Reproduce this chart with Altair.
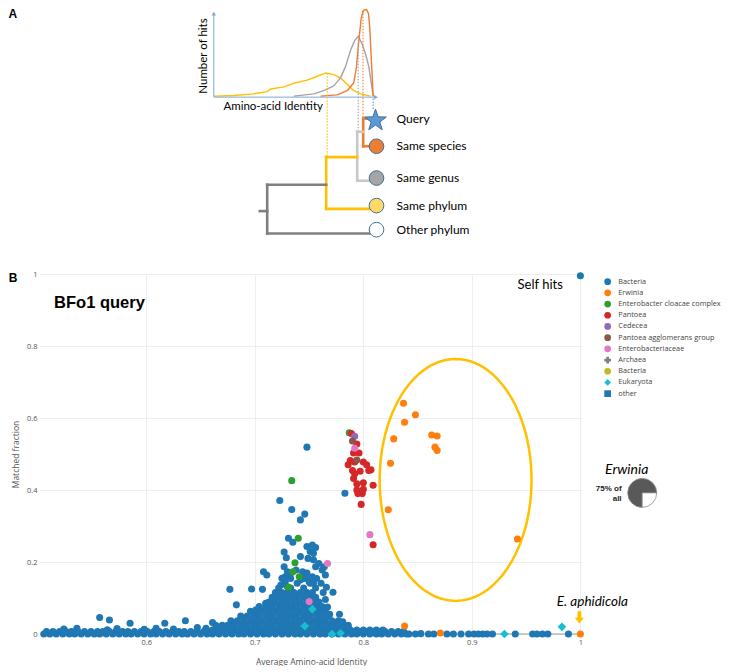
import math
import altair as alt
import pandas as pd

# ======================= PANEL B DATA =======================
GROUPS = ["Bacteria", "Erwinia", "Enterobacter cloacae complex", "Pantoea", "Cedecea",
          "Pantoea agglomerans group", "Enterobacteriaceae", "Archaea", "Bacteria ",
          "Eukaryota", "other"]
GROUP_COLORS = ["#1f77b4", "#ff7f0e", "#2ca02c", "#d62728", "#9467bd", "#8c564b",
                "#e377c2", "#7f7f7f", "#bcbd22", "#17becf", "#1f77b4"]
GROUP_SHAPES = ["circle", "circle", "circle", "circle", "circle", "circle", "circle",
                "cross", "circle", "diamond", "square"]

# Bacteria: band of hits lying on the x axis (two overlapping rows)
BAND0_X = [0.5055, 0.511, 0.517, 0.523, 0.529, 0.534, 0.540, 0.546, 0.552, 0.557, 0.563,
           0.569, 0.575, 0.581, 0.586, 0.592, 0.598, 0.604, 0.609, 0.615, 0.621, 0.627,
           0.633, 0.638, 0.644, 0.650, 0.656, 0.661, 0.667, 0.673, 0.679, 0.685, 0.690,
           0.696, 0.702, 0.708, 0.713, 0.719, 0.725, 0.731, 0.737, 0.742, 0.748, 0.754,
           0.760, 0.765, 0.771, 0.777, 0.783, 0.789, 0.794, 0.800, 0.806, 0.812, 0.817,
           0.823, 0.829, 0.835, 0.840]
BAND1_X = [0.508, 0.514, 0.520, 0.526, 0.531, 0.537, 0.543, 0.549, 0.555, 0.560, 0.566,
           0.572, 0.578, 0.583, 0.589, 0.595, 0.601, 0.607, 0.612, 0.618, 0.624, 0.630,
           0.635, 0.641, 0.647, 0.653, 0.659, 0.664, 0.670, 0.676, 0.682, 0.687, 0.693,
           0.699, 0.705, 0.711, 0.716, 0.722, 0.728, 0.734, 0.739, 0.745, 0.751, 0.757,
           0.763, 0.768, 0.774, 0.780, 0.786, 0.791, 0.797, 0.803, 0.809, 0.815, 0.820,
           0.826, 0.832, 0.837]
BAND0_Y = 0.0
BAND1_Y = 0.0065

# Bacteria: dense cloud around AAI 0.66-0.79 (rows: matched fraction -> AAI values)
CLOUD_ROWS = {
    0.011: [0.655, 0.661, 0.667, 0.672, 0.678, 0.684, 0.690, 0.696, 0.701, 0.707, 0.713,
            0.719, 0.725, 0.730, 0.736, 0.742, 0.748, 0.754, 0.759, 0.765, 0.771, 0.777,
            0.783, 0.788, 0.794, 0.800, 0.806, 0.812, 0.818],
    0.024: [0.664, 0.670, 0.675, 0.681, 0.687, 0.693, 0.699, 0.704, 0.710, 0.716, 0.722,
            0.728, 0.733, 0.739, 0.745, 0.751, 0.757, 0.762, 0.768, 0.774, 0.780, 0.786],
    0.037: [0.678, 0.684, 0.690, 0.696, 0.701, 0.707, 0.713, 0.719, 0.725, 0.730, 0.736,
            0.742, 0.748, 0.754, 0.759, 0.765, 0.771, 0.777],
    0.050: [0.687, 0.693, 0.699, 0.704, 0.710, 0.716, 0.722, 0.728, 0.733, 0.739, 0.745,
            0.751, 0.757, 0.762, 0.768],
    0.063: [0.696, 0.701, 0.707, 0.713, 0.719, 0.725, 0.730, 0.736, 0.742, 0.748, 0.754,
            0.759, 0.765],
    0.076: [0.704, 0.710, 0.716, 0.722, 0.728, 0.733, 0.739, 0.745, 0.751, 0.757, 0.762],
    0.089: [0.713, 0.719, 0.725, 0.730, 0.736, 0.742, 0.748, 0.754, 0.759],
    0.102: [0.716, 0.722, 0.728, 0.733, 0.739, 0.745, 0.751, 0.756],
    0.115: [0.719, 0.725, 0.730, 0.736, 0.742, 0.748, 0.753],
    0.128: [0.722, 0.733, 0.745, 0.756],
    0.141: [0.727, 0.739, 0.751],
    0.154: [0.733, 0.745, 0.757],
}

# Bacteria: individual hits
BACT_X = [0.748, 0.723, 0.734, 0.746, 0.742, 0.731, 0.735, 0.783,
          0.748, 0.753, 0.756, 0.751, 0.754, 0.749, 0.754, 0.727, 0.729, 0.742,
          0.759, 0.756, 0.762, 0.765, 0.764, 0.708, 0.711,
          0.727, 0.730, 0.728, 0.733, 0.738, 0.744, 0.748, 0.753, 0.747, 0.742, 0.750, 0.754,
          0.725, 0.728, 0.724, 0.730, 0.677, 0.697, 0.707,
          0.761, 0.766, 0.763, 0.772, 0.765, 0.717, 0.710, 0.683, 0.701,
          0.767, 0.769, 0.778, 0.781, 0.776, 0.786,
          0.557, 0.566, 0.585, 0.617, 0.636, 0.661,
          0.524, 0.536, 0.564, 0.573, 0.598, 0.609, 0.625, 0.647, 0.655, 0.672,
          0.842, 0.848, 0.853, 0.860, 0.865, 0.877, 0.883, 0.890, 0.897, 0.902, 0.906,
          0.910, 0.914, 0.919, 0.940, 0.956, 0.960, 0.965, 0.970, 0.989,
          1.0]
BACT_Y = [0.519, 0.371, 0.346, 0.333, 0.317, 0.266, 0.255, 0.391,
          0.243, 0.247, 0.240, 0.229, 0.224, 0.210, 0.206, 0.228, 0.212, 0.215,
          0.196, 0.187, 0.178, 0.164, 0.187, 0.173, 0.164,
          0.187, 0.173, 0.159, 0.169, 0.178, 0.173, 0.169, 0.159, 0.155, 0.150, 0.145, 0.141,
          0.155, 0.145, 0.136, 0.131, 0.124, 0.125, 0.124,
          0.141, 0.130, 0.115, 0.116, 0.096, 0.094, 0.085, 0.081, 0.067,
          0.075, 0.055, 0.055, 0.034, 0.028, 0.020,
          0.046, 0.039, 0.030, 0.030, 0.037, 0.032,
          0.014, 0.016, 0.012, 0.015, 0.013, 0.016, 0.014, 0.018, 0.016, 0.020,
          0.0, 0.0, 0.001, 0.0, 0.0, 0.0, 0.0, 0.0, 0.0, 0.0, 0.0,
          0.0, 0.0, 0.0, 0.0, 0.0, 0.0, 0.0, 0.0, 0.0,
          0.995]

ERW_X = [0.837, 0.848, 0.838, 0.863, 0.868, 0.828, 0.866, 0.868, 0.825, 0.823, 0.942,
         0.838, 0.871, 1.0]
ERW_Y = [0.641, 0.609, 0.588, 0.553, 0.550, 0.542, 0.519, 0.510, 0.474, 0.345, 0.264,
         0.022, 0.003, 0.0]
ECC_X = [0.787, 0.734, 0.740, 0.737, 0.735, 0.741, 0.731]
ECC_Y = [0.559, 0.426, 0.266, 0.198, 0.173, 0.159, 0.130]
PAN_X = [0.789, 0.794, 0.791, 0.796, 0.788, 0.792, 0.800, 0.790, 0.797, 0.805, 0.807,
         0.791, 0.800, 0.794, 0.809, 0.794, 0.800, 0.795, 0.799, 0.798, 0.809, 0.786,
         0.803, 0.792]
PAN_Y = [0.557, 0.528, 0.503, 0.503, 0.482, 0.478, 0.478, 0.454, 0.452, 0.454, 0.456,
         0.432, 0.420, 0.417, 0.413, 0.400, 0.402, 0.390, 0.390, 0.360, 0.248, 0.470,
         0.470, 0.445]
CED_X = [0.792]
CED_Y = [0.549]
PAG_X = [0.790, 0.794]
PAG_Y = [0.536, 0.483]
ENT_X = [0.792, 0.806, 0.750, 0.767]
ENT_Y = [0.516, 0.276, 0.090, 0.196]
EUK_X = [0.753, 0.746, 0.771, 0.779, 0.930, 0.983]
EUK_Y = [0.069, 0.022, 0.000, 0.002, 0.000, 0.020]

# Erwinia share (pie)
PIE_NAMES = ["Erwinia", "rest"]
PIE_VALUES = [75, 25]

# ======================= PANEL A DATA (schematic units) =======================
YEL_X = [213.3, 233.3, 253.3, 266.7, 270, 283.3, 293.3, 306.7, 316.7, 325, 333.3, 340,
         346.7, 353.3, 360, 370]
YEL_Y = [90.7, 90, 88.3, 86, 83.3, 81, 77.3, 74, 70, 66.7, 68.3, 71.7, 78.3, 85, 88.3, 90.7]
GRY_X = [293.3, 313.3, 323.3, 333.3, 340, 345, 350, 354, 357.7, 361.7, 365, 368.3, 370.7,
         372.7]
GRY_Y = [90.7, 88.3, 85, 80, 71.7, 60, 43.3, 33.3, 28.3, 36.7, 46.7, 60, 76.7, 90.7]
ORA_X = [320, 336.7, 346.7, 353.3, 356, 358.3, 360.7, 362.7, 366, 368, 369.3, 370.7, 372,
         372.7]
ORA_Y = [90.7, 89.3, 85, 76.7, 60, 33.3, 10, 1.7, 0.7, 5, 20, 50, 76.7, 90.7]

NODE_LABELS = ["Query", "Same species", "Same genus", "Same phylum", "Other phylum"]
NODE_Y = [114.3, 142.7, 175.7, 204.3, 229.3]
NODE_FILLS = ["#5b9bd5", "#ed7d31", "#a5a5a5", "#ffd966", "#ffffff"]

# tree branches: (x1, y1, x2, y2) per colour
TREE = {
    "#ed7d31": [(362.7, 114, 368, 114), (362.7, 114, 362.7, 142.7), (362.7, 142.7, 369, 142.7)],
    "#c8c8c8": [(356.7, 127.7, 362.7, 127.7), (356.7, 127.7, 356.7, 178.5),
                (356.7, 178.5, 369, 178.5)],
    "#ffc000": [(325.7, 154, 356.7, 154), (325.7, 154, 325.7, 207.7), (325.7, 207.7, 369, 207.7)],
    "#7f7f7f": [(266.7, 182.7, 325.7, 182.7), (266.7, 182.7, 266.7, 233.3),
                (266.7, 233.3, 369, 233.3), (259.3, 210, 266.7, 210)],
}
# dotted guides: (x, y_top, y_bottom, colour)
GUIDES = [(326.7, 67, 154, "#ffc000"), (357.7, 29, 127.7, "#a5a5a5"),
          (362.5, 2, 114, "#ed7d31"), (372.7, 93, 105, "#5b9bd5")]

# schematic units -> panel coordinates
XPU = 542 / (1.0015 - 0.502)
def ax(v):
    return 0.502 + (v - 39.5) / XPU
def ay(v):
    return (634 - (8.8 + 0.9633 * v)) / 360

# symbol outlines (unit square -1..1)
STAR = ("M0,-1 L0.235,-0.324 L0.951,-0.309 L0.380,0.124 L0.588,0.809 L0,0.4 "
        "L-0.588,0.809 L-0.380,0.124 L-0.951,-0.309 L-0.235,-0.324 Z")
ARROW = "M-0.32,-1 L0.32,-1 L0.32,0.05 L0.75,0.05 L0,1 L-0.75,0.05 L-0.32,0.05 Z"

# ======================= ENCODINGS =======================
XS = alt.Scale(domain=[0.502, 1.0015], nice=False, zero=False)
YS = alt.Scale(domain=[0, 1], nice=False, zero=False)
XAX = alt.Axis(orient="bottom", values=[0.6, 0.7, 0.8, 0.9, 1.0], format="~g",
               title="Average Amino-acid Identity", grid=True, gridColor="#eeeeee",
               domain=False, ticks=False, labelFlush=False,
               labelFont="Open Sans", labelFontSize=7.5, labelColor="#555", labelPadding=4,
               titleFont="Open Sans", titleFontSize=8.5, titleFontWeight="normal",
               titleColor="#555", titlePadding=12)
YAX = alt.Axis(orient="left", values=[0, 0.2, 0.4, 0.6, 0.8, 1.0], format="~g",
               title="Matched fraction", grid=True, gridColor="#eeeeee", domain=False,
               ticks=False, labelFont="Open Sans", labelFontSize=7.5, labelColor="#555",
               labelPadding=3, titleFont="Open Sans", titleFontSize=8.5,
               titleFontWeight="normal", titleColor="#555", titlePadding=6)
XE = alt.X("x:Q", scale=XS, axis=XAX)
YE = alt.Y("y:Q", scale=YS, axis=YAX)

LEG = alt.Legend(orient="none", legendX=564, legendY=4, title=None, labelFont="Open Sans",
                 labelFontSize=7.3, labelColor="#444", symbolSize=45, symbolStrokeWidth=0,
                 rowPadding=2.2, labelOffset=7)

# ======================= PANEL B LAYERS =======================
rows = []
def add(group, xs, ys):
    for a, b in zip(xs, ys):
        rows.append({"group": group, "x": a, "y": b})

add("Bacteria", BAND0_X, [BAND0_Y] * len(BAND0_X))
add("Bacteria", BAND1_X, [BAND1_Y] * len(BAND1_X))
for yv, xs in CLOUD_ROWS.items():
    add("Bacteria", xs, [yv] * len(xs))
add("Bacteria", BACT_X, BACT_Y)
add("Erwinia", ERW_X, ERW_Y)
add("Enterobacter cloacae complex", ECC_X, ECC_Y)
add("Pantoea", PAN_X, PAN_Y)
add("Cedecea", CED_X, CED_Y)
add("Pantoea agglomerans group", PAG_X, PAG_Y)
add("Enterobacteriaceae", ENT_X, ENT_Y)
add("Eukaryota", EUK_X, EUK_Y)
pts = pd.DataFrame(rows)

layers = []

layers.append(alt.Chart(pd.DataFrame({"x": [0.502], "x2": [1.0], "y": [0.0]})).mark_rule(
    color="#9a9a9a", strokeWidth=1).encode(x=XE, x2="x2:Q", y=YE))

ELL_CX, ELL_CY, ELL_RX, ELL_RY = 0.885, 0.428, 0.070, 0.336
ell = pd.DataFrame({
    "i": list(range(97)),
    "x": [ELL_CX + ELL_RX * math.cos(2 * math.pi * k / 96) for k in range(97)],
    "y": [ELL_CY + ELL_RY * math.sin(2 * math.pi * k / 96) for k in range(97)],
})
layers.append(alt.Chart(ell).mark_line(color="#ffc000", strokeWidth=2.5).encode(
    x=XE, y=YE, order="i:Q"))

layers.append(alt.Chart(pts).mark_point(filled=True, opacity=1, strokeWidth=0).encode(
    x=XE, y=YE,
    color=alt.Color("group:N", scale=alt.Scale(domain=GROUPS, range=GROUP_COLORS), legend=LEG),
    shape=alt.Shape("group:N", scale=alt.Scale(domain=GROUPS, range=GROUP_SHAPES), legend=LEG),
    size=alt.condition("datum.group == 'Eukaryota'", alt.value(75), alt.value(50)),
))

cum = [0]
for v in PIE_VALUES:
    cum.append(cum[-1] + v)
pie_df = pd.DataFrame({"name": PIE_NAMES, "t0": cum[:-1], "t1": cum[1:],
                       "x": [1.057] * 2, "y": [0.392] * 2})
layers.append(alt.Chart(pie_df).mark_arc(radius=14.5, stroke="#8a8a8a", strokeWidth=0.8).encode(
    x=XE, y=YE,
    theta=alt.Theta("t0:Q", scale=alt.Scale(domain=[0, 100], range=[math.pi, 3 * math.pi]),
                    stack=False),
    theta2="t1:Q",
    color=alt.condition("datum.name == 'Erwinia'", alt.value("#595959"), alt.value("#ffffff")),
))

def txt(xs, ys, ts, **kw):
    return alt.Chart(pd.DataFrame({"x": xs, "y": ys, "t": ts})).mark_text(**kw).encode(
        x=XE, y=YE, text="t:N")

layers.append(txt([0.4731], [0.990], ["B"], font="Liberation Sans", fontSize=12,
                  fontWeight="bold", align="left", baseline="middle", color="black"))
layers.append(txt([0.515], [0.919], ["BFo1 query"], font="Liberation Sans", fontSize=16.5,
                  fontWeight="bold", align="left", baseline="middle", color="black"))
layers.append(txt([0.963], [0.969], ["Self hits"], font="Lato", fontSize=13,
                  align="center", baseline="middle", color="black"))
layers.append(txt([1.0427], [0.456], ["Erwinia"], font="Lato", fontSize=14,
                  fontStyle="italic", align="center", baseline="middle", color="black"))
layers.append(txt([1.038, 1.038], [0.404, 0.375], ["75% of", "all"], font="Liberation Sans",
                  fontSize=8, fontWeight="bold", align="right", baseline="middle", color="#222"))
layers.append(txt([1.011], [0.088], ["E. aphidicola"], font="Lato", fontSize=13.5,
                  fontStyle="italic", align="center", baseline="middle", color="black"))
layers.append(alt.Chart(pd.DataFrame({"x": [0.9991], "y": [0.046]})).mark_point(
    shape=ARROW, filled=True, size=150, color="#ffc000", opacity=1).encode(x=XE, y=YE))

# ======================= PANEL A LAYERS =======================
for col, xs, ys in [("#ffc000", YEL_X, YEL_Y), ("#a5a5a5", GRY_X, GRY_Y),
                    ("#ed7d31", ORA_X, ORA_Y)]:
    d = pd.DataFrame({"i": list(range(len(xs))), "x": [ax(v) for v in xs],
                      "y": [ay(v) for v in ys]})
    layers.append(alt.Chart(d).mark_line(color=col, strokeWidth=1.4, strokeJoin="round").encode(
        x=XE, y=YE, order="i:Q"))

AXCOL = "#7fa7d9"
layers.append(alt.Chart(pd.DataFrame({
    "x": [ax(213.3), ax(213.3)], "y": [ay(91.7), ay(91.7)],
    "x2": [ax(213.3), ax(374)], "y2": [ay(6), ay(91.7)]})).mark_rule(
    color=AXCOL, strokeWidth=1).encode(x=XE, y=YE, x2="x2:Q", y2="y2:Q"))
layers.append(alt.Chart(pd.DataFrame({"x": [ax(213.3)], "y": [ay(5)]})).mark_point(
    shape="triangle-up", filled=True, size=20, color=AXCOL, opacity=1).encode(x=XE, y=YE))
layers.append(alt.Chart(pd.DataFrame({"x": [ax(375.5)], "y": [ay(91.7)]})).mark_point(
    shape="triangle-right", filled=True, size=20, color=AXCOL, opacity=1).encode(x=XE, y=YE))

for gx, gy1, gy2, col in GUIDES:
    layers.append(alt.Chart(pd.DataFrame({"x": [ax(gx)], "y": [ay(gy1)], "y2": [ay(gy2)]})).mark_rule(
        color=col, strokeWidth=1.1, strokeDash=[1.5, 1.5]).encode(x=XE, y=YE, y2="y2:Q"))

for col, segs in TREE.items():
    d = pd.DataFrame({"x": [ax(s[0]) for s in segs], "y": [ay(s[1]) for s in segs],
                      "x2": [ax(s[2]) for s in segs], "y2": [ay(s[3]) for s in segs]})
    layers.append(alt.Chart(d).mark_rule(color=col, strokeWidth=2.6, strokeCap="square").encode(
        x=XE, y=YE, x2="x2:Q", y2="y2:Q"))

for ny, nf in zip(NODE_Y[1:], NODE_FILLS[1:]):
    layers.append(alt.Chart(pd.DataFrame({"x": [ax(376)], "y": [ay(ny)]})).mark_point(
        shape="circle", filled=True, size=215, fill=nf, stroke="#41719c", strokeWidth=1,
        opacity=1).encode(x=XE, y=YE))
layers.append(alt.Chart(pd.DataFrame({"x": [ax(375)], "y": [ay(116)]})).mark_point(
    shape=STAR, filled=True, size=520, fill=NODE_FILLS[0], stroke="#41719c", strokeWidth=1,
    opacity=1).encode(x=XE, y=YE))

layers.append(txt([ax(396)] * 5, [ay(v) for v in NODE_Y], NODE_LABELS, font="Lato",
                  fontSize=12, align="left", baseline="middle", color="black"))
layers.append(txt([ax(272.7)], [ay(101.7)], ["Amino-acid Identity"], font="Lato",
                  fontSize=11.5, align="center", baseline="middle", color="black"))
layers.append(txt([ax(203)], [ay(49)], ["Number of hits"], font="Lato", fontSize=11.5,
                  align="center", baseline="middle", angle=270, color="black"))
layers.append(txt([ax(8)], [ay(5.7)], ["A"], font="Liberation Sans", fontSize=12,
                  fontWeight="bold", align="left", baseline="middle", color="black"))

chart = alt.layer(*layers).properties(width=542, height=360, padding=0).configure_view(
    stroke="transparent")

chart.save("out.html", embed_options={"renderer": "svg", "actions": False})
